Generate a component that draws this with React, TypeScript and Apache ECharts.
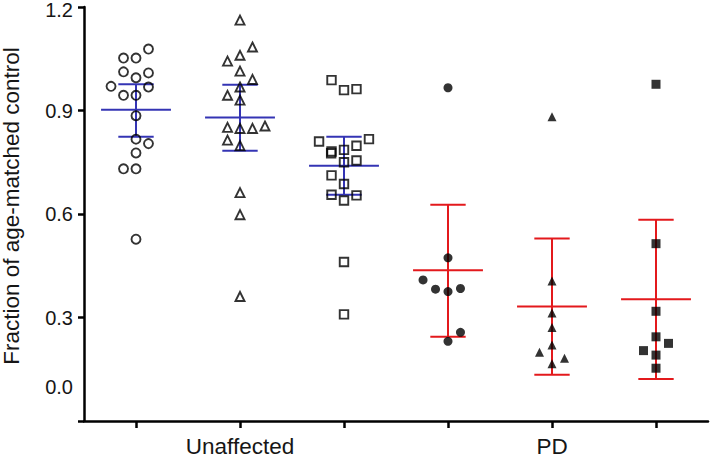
import React, { useEffect, useRef } from "react";
import * as echarts from "echarts";

// Category labels on the x axis (six groups, two labelled)
const xLabels = ["", "Unaffected", "", "", "PD", ""];
const yTicks = [0, 0.3, 0.6, 0.9, 1.2];

// Group 0: open circles
const g0Values = [1.052, 1.052, 1.078, 1.012, 0.995, 1.009, 0.97, 0.968, 0.944, 0.944, 0.885, 0.817, 0.804, 0.777, 0.731, 0.731, 0.527];
const g0Jitter = [-1, 0, 1, -1, 0, 1, -2, 1, -1, 0, 0, 0, 1, 0, -1, 0, 0];
// Group 1: open triangles
const g1Values = [1.162, 1.084, 1.06, 1.043, 1.014, 0.99, 0.968, 0.944, 0.93, 0.851, 0.848, 0.848, 0.855, 0.814, 0.798, 0.662, 0.598, 0.361];
const g1Jitter = [0, 1, 0, -1, 0, 1, 0, -1, 0, -1, 0, 1, 2, -1, 0, 0, 0, 0];
// Group 2: open squares
const g2Values = [0.988, 0.959, 0.962, 0.81, 0.817, 0.781, 0.776, 0.786, 0.798, 0.75, 0.755, 0.712, 0.687, 0.656, 0.654, 0.639, 0.461, 0.309];
const g2Jitter = [-1, 0, 1, -2, 2, -1, -1.03, 0, 1, 0, 1, -1, 0, -1, 1, 0, 0, 0];
// Group 3: filled circles
const g3Values = [0.966, 0.473, 0.409, 0.382, 0.375, 0.384, 0.257, 0.231];
const g3Jitter = [0, 0, -2, -1, 0, 1, 1, 0];
// Group 4: filled triangles
const g4Values = [0.882, 0.406, 0.313, 0.271, 0.22, 0.199, 0.182, 0.166];
const g4Jitter = [0, 0, 0, 0, 0, -1, 1, 0];
// Group 5: filled squares
const g5Values = [0.976, 0.514, 0.318, 0.244, 0.225, 0.204, 0.191, 0.153];
const g5Jitter = [0, 0, 0, 0, 1, -1, 0, 0];

// Summary statistics per group (mean with error bars)
const groupMeans = [0.902, 0.88, 0.74, 0.437, 0.332, 0.353];
const groupLow = [0.824, 0.783, 0.656, 0.244, 0.134, 0.122];
const groupHigh = [0.976, 0.975, 0.824, 0.627, 0.529, 0.583];
const groupIsPD = [0, 0, 0, 1, 1, 1];

const JITTER_STEP = 0.12;
const BLUE = "#3434b4";
const RED = "#e3191c";
const FONT = "'Liberation Sans', Arial, sans-serif";
const TEXT = "#161616";

function pts(group: number, values: number[], jitter: number[]) {
  return values.map((v, i) => [group + jitter[i] * JITTER_STEP, v]);
}

export default function App() {
  const ref = useRef<HTMLDivElement>(null);
  useEffect(() => {
    if (!ref.current) return;
    const chart = echarts.init(ref.current, null, { renderer: "svg" });
    const openStyle = { color: "rgba(255,255,255,0)", borderColor: "#000", borderWidth: 1.9 };
    const filledStyle = { color: "#000" };
    const scatter = (data: number[][], symbol: string, size: number, style: any) => ({
      type: "scatter",
      xAxisIndex: 1,
      yAxisIndex: 0,
      symbol,
      symbolSize: size,
      itemStyle: style,
      data,
      z: 3,
      silent: true,
    });
    const yMax = yTicks[yTicks.length - 1];
    chart.setOption({
      animation: false,
      grid: { left: 84, right: 3, top: 7, bottom: 37, containLabel: false, outerBoundsMode: "none" },
      xAxis: [
        {
          type: "category",
          data: xLabels,
          boundaryGap: true,
          axisLine: { show: true, onZero: false, lineStyle: { color: "#000", width: 2.5 } },
          axisTick: { show: true, alignWithLabel: true, length: 7, lineStyle: { color: "#000", width: 2.5 } },
          axisLabel: { interval: 0, margin: 14, fontSize: 22.5, fontFamily: FONT, color: TEXT },
          splitLine: { show: false },
        },
        {
          type: "value",
          min: -0.5,
          max: 5.5,
          show: false,
          axisLine: { onZero: false },
          splitLine: { show: false },
        },
      ],
      yAxis: {
        type: "value",
        min: yTicks[0],
        max: yMax,
        interval: 0.3,
        name: "Fraction of age-matched control",
        nameLocation: "middle",
        nameGap: 61,
        nameTextStyle: { fontSize: 22.5, fontFamily: FONT, color: TEXT, padding: [0, 0, 0, 16] },
        axisLine: { show: true, onZero: false, lineStyle: { color: "#000", width: 2.5 } },
        axisTick: { show: true, length: 6, lineStyle: { color: "#000", width: 2.5 } },
        axisLabel: {
          margin: 11,
          fontSize: 20,
          fontFamily: FONT,
          color: TEXT,
          formatter: (v: number) =>
            Math.abs(v) < 1e-9
              ? "{z|0.0}"
              : Math.abs(v - yMax) < 1e-9
              ? "{t|" + v.toFixed(1) + "}"
              : v.toFixed(1),
          rich: {
            z: { fontSize: 20, fontFamily: FONT, color: TEXT, padding: [0, 0, 68, 0] },
            t: { fontSize: 20, fontFamily: FONT, color: TEXT, padding: [6, 0, 0, 0] },
          },
        },
        splitLine: { show: false },
      },
      series: [
        {
          type: "custom",
          xAxisIndex: 1,
          yAxisIndex: 0,
          silent: true,
          z: 2,
          data: groupMeans.map((m, i) => [i, m, groupLow[i], groupHigh[i], groupIsPD[i]]),
          renderItem: (params: any, api: any) => {
            const x = api.value(0);
            const mean = api.value(1);
            const lo = api.value(2);
            const hi = api.value(3);
            const color = api.value(4) ? RED : BLUE;
            const style = { stroke: color, lineWidth: 2, fill: null };
            const pM1 = api.coord([x - 0.336, mean]);
            const pM2 = api.coord([x + 0.336, mean]);
            const pLo = api.coord([x, lo]);
            const pHi = api.coord([x, hi]);
            const cL = api.coord([x - 0.17, lo]);
            const cR = api.coord([x + 0.17, lo]);
            const hL = api.coord([x - 0.17, hi]);
            const hR = api.coord([x + 0.17, hi]);
            return {
              type: "group",
              children: [
                { type: "line", shape: { x1: pM1[0], y1: pM1[1], x2: pM2[0], y2: pM2[1] }, style },
                { type: "line", shape: { x1: pLo[0], y1: pLo[1], x2: pHi[0], y2: pHi[1] }, style },
                { type: "line", shape: { x1: cL[0], y1: cL[1], x2: cR[0], y2: cR[1] }, style },
                { type: "line", shape: { x1: hL[0], y1: hL[1], x2: hR[0], y2: hR[1] }, style },
              ],
            };
          },
        },
        scatter(pts(0, g0Values, g0Jitter), "circle", 9, openStyle),
        scatter(pts(1, g1Values, g1Jitter), "triangle", 9, openStyle),
        scatter(pts(2, g2Values, g2Jitter), "rect", 8.5, openStyle),
        scatter(pts(3, g3Values, g3Jitter), "circle", 9, filledStyle),
        scatter(pts(4, g4Values, g4Jitter), "triangle", 9, filledStyle),
        scatter(pts(5, g5Values, g5Jitter), "rect", 9, filledStyle),
      ],
    });
    return () => chart.dispose();
  }, []);
  return (
    <div
      ref={ref}
      style={{ position: "fixed", left: 0, top: 0, width: 711, height: 458, background: "#fff" }}
    />
  );
}
